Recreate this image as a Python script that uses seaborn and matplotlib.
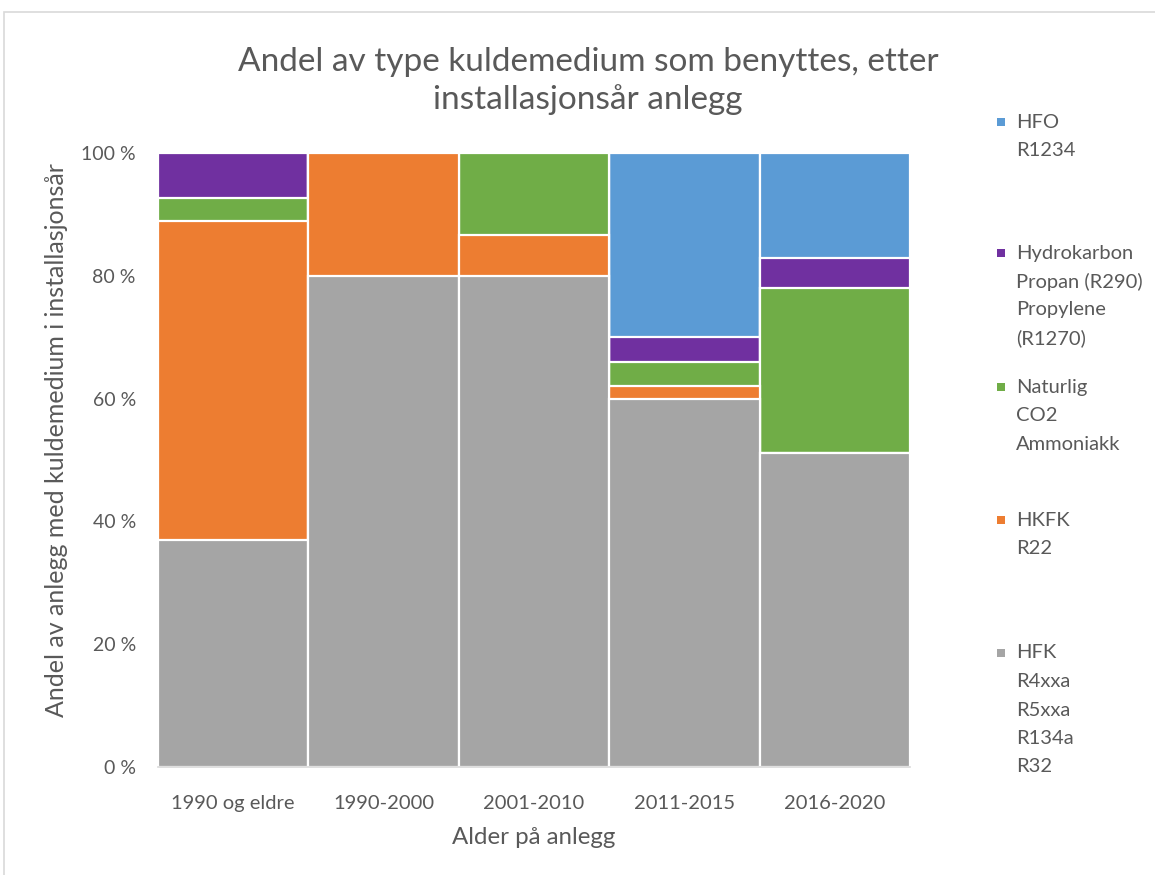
import matplotlib
matplotlib.use("Agg")
import matplotlib.pyplot as plt
import seaborn as sns
import numpy as np
import pandas as pd
from matplotlib.patches import Rectangle

# ---- data ----
categories = ["1990 og eldre", "1990-2000", "2001-2010", "2011-2015", "2016-2020"]
hfk = [37.0, 80.0, 80.0, 60.0, 51.2]
hkfk = [51.9, 20.0, 6.7, 2.0, 0.0]
naturlig = [3.7, 0.0, 13.3, 4.0, 26.8]
hydrokarbon = [7.4, 0.0, 0.0, 4.0, 4.9]
hfo = [0.0, 0.0, 0.0, 30.0, 17.1]

series_names = ["HFK", "HKFK", "Naturlig", "Hydrokarbon", "HFO"]
series_values = [hfk, hkfk, naturlig, hydrokarbon, hfo]
series_colors = ["#A5A5A5", "#ED7D31", "#70AD47", "#7030A0", "#5B9BD5"]
legend_labels = [
    ["HFK", "R4xxa", "R5xxa", "R134a", "R32"],
    ["HKFK", "R22"],
    ["Naturlig", "CO2", "Ammoniakk"],
    ["Hydrokarbon", "Propan (R290)", "Propylene", "(R1270)"],
    ["HFO", "R1234"],
]
yticks = [0, 20, 40, 60, 80, 100]
ytick_labels = [f"{v} %" for v in yticks]

title = "Andel av type kuldemedium som benyttes, etter\ninstallasjonsår anlegg"
xlabel = "Alder på anlegg"
ylabel = "Andel av anlegg med kuldemedium i installasjonsår"

# ---- style ----
sns.set_theme(style="white")
plt.rcParams["font.family"] = ["Lato", "DejaVu Sans"]
text_color = "#595959"

W, H = 1155, 875
fig = plt.figure(figsize=(W / 100, H / 100), dpi=100)
ax = fig.add_axes([158 / W, 1 - 767 / H, (910 - 158) / W, (767 - 153) / H])

# border of chart area
fig.patches.append(Rectangle((4 / W, -0.1), 1.2, 1 - 12 / H + 0.1, transform=fig.transFigure,
                             fill=False, edgecolor="#D9D9D9", linewidth=1.2))

cum = np.zeros(len(categories))
cums = []
for vals in series_values:
    cum = cum + np.array(vals)
    cums.append(cum.copy())

# draw from top layer downwards so each lower stack overlays
for name, c, color in reversed(list(zip(series_names, cums, series_colors))):
    d = pd.DataFrame({"category": categories, "value": c})
    sns.barplot(data=d, x="category", y="value", color=color, saturation=1,
                width=1.0, edgecolor="white", linewidth=1.6, ax=ax, errorbar=None)

ax.set_xlim(-0.5, len(categories) - 0.5)
ax.set_ylim(0, 100)
ax.set_yticks(yticks)
ax.set_yticklabels(ytick_labels, fontsize=14, color=text_color)
ax.set_xticks(range(len(categories)))
ax.set_xticklabels(categories, fontsize=14.5, color=text_color)
ax.tick_params(axis="both", length=0)
ax.tick_params(axis="y", pad=16)
ax.tick_params(axis="x", pad=20)
ax.set_xlabel("")
ax.set_ylabel("")
for s in ["top", "right", "left"]:
    ax.spines[s].set_visible(False)
ax.spines["bottom"].set_color("#D9D9D9")
ax.spines["bottom"].set_linewidth(1.2)
ax.set_facecolor("white")

# title
fig.text(588 / W, 1 - 81 / H, title, ha="center", va="center", fontsize=24,
         color=text_color, linespacing=1.25)
# axis labels
fig.text(534 / W, 1 - 838 / H, xlabel, ha="center", va="center", fontsize=17.3, color=text_color)
fig.text(57 / W, 1 - 440 / H, ylabel, ha="center", va="center", rotation=90,
         fontsize=18, color=text_color)

# legend (manual, Excel-like placement)
legend_first_line_y = {"HFO": 122, "Hydrokarbon": 253, "Naturlig": 387, "HKFK": 520, "HFK": 653}
line_step = 28.5
for name, color, lines in zip(series_names, series_colors, legend_labels):
    y0 = legend_first_line_y[name]
    fig.patches.append(Rectangle((997 / W, 1 - (y0 + 4) / H), 8 / W, 8 / H,
                                 transform=fig.transFigure, facecolor=color, edgecolor="none"))
    for i, ln in enumerate(lines):
        fig.text(1016 / W, 1 - (y0 + i * line_step) / H, ln, ha="left", va="center",
                 fontsize=14.5, color=text_color)

fig.savefig("out.png", dpi=100, facecolor="white")
